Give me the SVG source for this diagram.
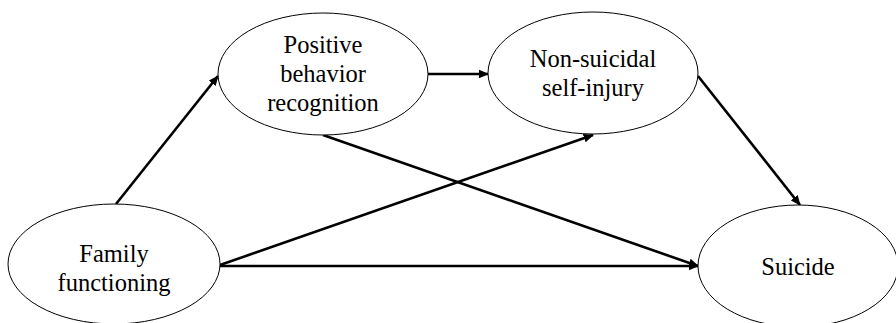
<svg xmlns="http://www.w3.org/2000/svg" width="896" height="323" viewBox="0 0 896 323">
<style>
.node ellipse{fill:#fff;stroke:#000;stroke-width:1}
.node text{font-family:'Liberation Serif',serif;font-size:24.5px;fill:#000;text-anchor:middle}
.edges line{stroke:#000;stroke-width:2.6;marker-end:url(#ah)}
</style>
<defs>
<marker id="ah" viewBox="0 0 10 10" refX="9" refY="5" markerWidth="4" markerHeight="4" markerUnits="strokeWidth" orient="auto">
<path d="M0,0.8 L10,5 L0,9.2 z" fill="#000"/>
</marker>
</defs>
<rect width="896" height="323" fill="#fff"/>
<g class="edges">
<line x1="116" y1="204" x2="218" y2="76"/>
<line x1="428" y1="74" x2="488" y2="74"/>
<line x1="323" y1="135" x2="698" y2="266"/>
<line x1="220" y1="265" x2="593" y2="135"/>
<line x1="220" y1="266" x2="698" y2="266"/>
<line x1="698" y1="76" x2="800" y2="205"/>
</g>
<g id="family" class="node">
<ellipse cx="114" cy="264" rx="106" ry="60"/>
<text x="114" y="262" font-family="Liberation Serif">Family</text>
<text x="114" y="291" font-family="Liberation Serif">functioning</text>
</g>
<g id="positive" class="node">
<ellipse cx="323" cy="74" rx="105" ry="61"/>
<text x="323" y="53" font-family="Liberation Serif">Positive</text>
<text x="323" y="82" font-family="Liberation Serif">behavior</text>
<text x="323" y="111" font-family="Liberation Serif">recognition</text>
</g>
<g id="nssi" class="node">
<ellipse cx="593" cy="73" rx="105" ry="61"/>
<text x="593" y="67" font-family="Liberation Serif">Non-suicidal</text>
<text x="593" y="96" font-family="Liberation Serif">self-injury</text>
</g>
<g id="suicide" class="node">
<ellipse cx="798" cy="266" rx="100" ry="61"/>
<text x="798" y="275" font-family="Liberation Serif">Suicide</text>
</g>
</svg>
